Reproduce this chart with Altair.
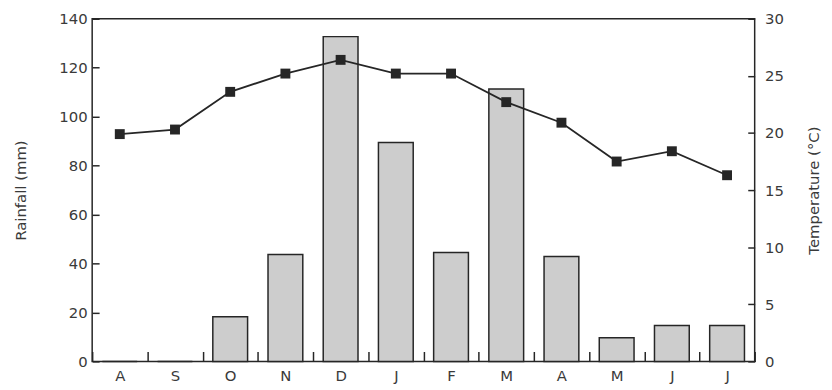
import altair as alt
import pandas as pd

months = ["A", "S", "O", "N", "D", "J", "F", "M", "A", "M", "J", "J"]
rainfall = [0, 0, 18.2, 43.7, 132.7, 89.4, 44.5, 111.3, 42.9, 9.7, 14.7, 14.7]
temperature = [19.9, 20.3, 23.6, 25.2, 26.4, 25.2, 25.2, 22.7, 20.9, 17.5, 18.4, 16.3]
rain_ticks = [0, 20, 40, 60, 80, 100, 120, 140]
temp_ticks = [0, 5, 10, 15, 20, 25, 30]

df = pd.DataFrame({
    "idx": list(range(len(months))),
    "month": months,
    "rain": rainfall,
    "temp": temperature,
})

label_expr = "[" + ",".join("'%s'" % m for m in months) + "][datum.value]"
FONT = "DejaVu Sans"
INK = "#262626"
TXT = "#3a3a3a"

x_enc = alt.X(
    "idx:O",
    scale=alt.Scale(paddingInner=0, paddingOuter=0),
    axis=alt.Axis(
        title=None,
        labelExpr=label_expr,
        labelAngle=0,
        domain=False,
        tickBand="extent",
        tickSize=10,
        tickWidth=1.5,
        tickColor=INK,
        offset=-10,
        labelPadding=7,
        labelFont=FONT,
        labelFontSize=15,
        labelColor=TXT,
        zindex=2,
    ),
)

bars = alt.Chart(df).mark_bar(
    fill="#cdcdcd", stroke=INK, strokeWidth=1.5, width=alt.RelativeBandSize(0.63)
).encode(
    x=x_enc,
    y=alt.Y(
        "rain:Q",
        scale=alt.Scale(domain=[0, 140], nice=False),
        axis=alt.Axis(
            title="Rainfall (mm)",
            values=rain_ticks,
            orient="left",
            domain=False,
            grid=False,
            tickSize=7,
            tickWidth=1.5,
            tickColor=INK,
            offset=-7,
            labelPadding=5,
            labelFont=FONT,
            labelFontSize=15,
            labelColor=TXT,
            titleFont=FONT,
            titleFontSize=15,
            titleFontWeight="normal",
            titleColor=TXT,
            titlePadding=31,
            zindex=2,
        ),
    ),
)

temp_axis = alt.Axis(
    title="Temperature (°C)",
    values=temp_ticks,
    orient="right",
    domain=False,
    grid=False,
    tickSize=7,
    tickWidth=1.5,
    tickColor=INK,
    offset=-7,
    labelPadding=10,
    labelFont=FONT,
    labelFontSize=15,
    labelColor=TXT,
    titleFont=FONT,
    titleFontSize=15,
    titleFontWeight="normal",
    titleColor=TXT,
    titleAngle=270,
    titlePadding=38,
    zindex=2,
)

line = alt.Chart(df).mark_line(color=INK, strokeWidth=1.8).encode(
    x=alt.X("idx:O"),
    y=alt.Y("temp:Q", scale=alt.Scale(domain=[0, 30], nice=False), axis=temp_axis),
)

pts = alt.Chart(df).mark_point(
    shape="square", filled=True, size=100, color=INK, opacity=1
).encode(
    x=alt.X("idx:O"),
    y=alt.Y("temp:Q", scale=alt.Scale(domain=[0, 30], nice=False), axis=temp_axis),
)

chart = alt.layer(bars, line + pts).resolve_scale(y="independent").properties(
    width=669,
    height=346,
    autosize=alt.AutoSizeParams(type="none"),
    padding={"left": 85, "top": 9, "right": 70, "bottom": 24},
    background="white",
).configure_view(stroke=INK, strokeWidth=1.5)

chart.save("out.html", embed_options={"renderer": "svg", "actions": False})
